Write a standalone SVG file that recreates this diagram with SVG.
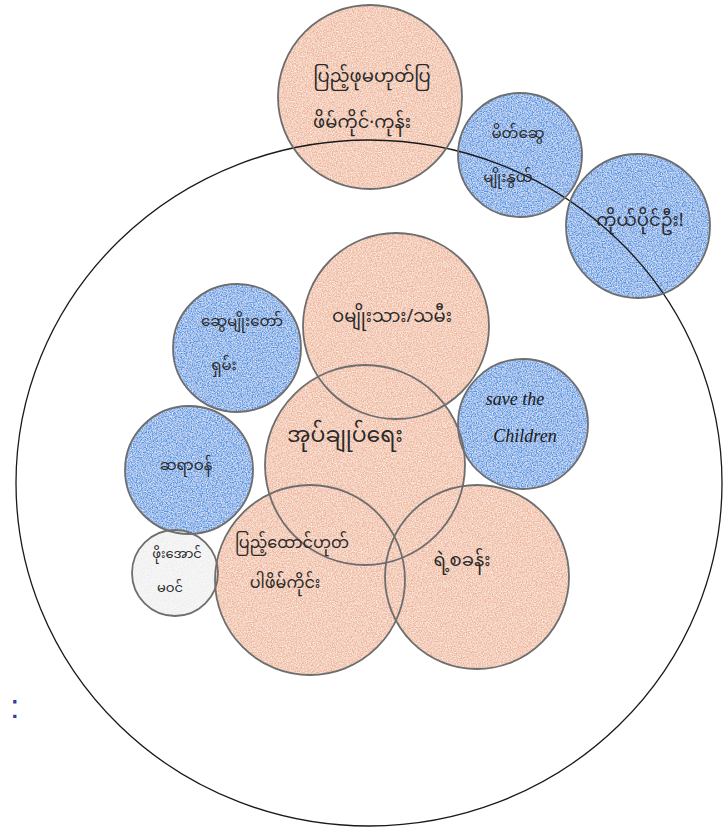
<svg xmlns="http://www.w3.org/2000/svg" width="728" height="828" viewBox="0 0 728 828">
<defs>
<filter id="crayon" x="-5%" y="-5%" width="110%" height="110%">
<feTurbulence type="fractalNoise" baseFrequency="0.8" numOctaves="2" seed="3" result="n"/>
<feColorMatrix in="n" type="matrix" values="0 0 0 0 1  0 0 0 0 1  0 0 0 0 1  0 0 0 -1.4 1.0" result="w"/>
<feComposite in="w" in2="SourceGraphic" operator="in" result="wm"/>
<feMerge><feMergeNode in="SourceGraphic"/><feMergeNode in="wm"/></feMerge>
</filter>
</defs>
<style>
.or{fill:#efb596;}
.bl{fill:#4f95e2;}
.wh{fill:#eeeeee;}
.ol{fill:none;stroke:#6e6e6e;stroke-width:1.8;}
.big{fill:none;stroke:#1a1a1a;stroke-width:1.3;}
.t{font-family:"Noto Sans Myanmar","Padauk","Myanmar Text","Noto Sans",sans-serif;font-size:18px;fill:#2a2a2a;text-anchor:middle;}
.s{font-size:15px;}
.e{font-family:"Liberation Serif",serif;font-style:italic;font-size:18px;fill:#1a1a1a;text-anchor:middle;}
</style>
<rect width="728" height="828" fill="#ffffff"/>
<g id="fills" filter="url(#crayon)">
<circle class="or" cx="370" cy="97" r="92"/>
<circle class="bl" cx="520" cy="155" r="62"/>
<circle class="bl" cx="638" cy="226" r="72"/>
<circle class="bl" cx="237" cy="348" r="64"/>
<circle class="bl" cx="523" cy="424" r="65"/>
<circle class="bl" cx="189" cy="470" r="64"/>
<circle class="wh" cx="175" cy="573" r="43"/>
<circle class="or" cx="396" cy="326" r="93"/>
<circle class="or" cx="365" cy="465" r="100"/>
<circle class="or" cx="310" cy="580" r="95"/>
<circle class="or" cx="477" cy="577" r="92"/>
</g>
<g id="connectors">
<ellipse class="big" cx="369" cy="483" rx="353" ry="343"/>
</g>
<g id="n1"><circle class="ol" cx="370" cy="97" r="92"/><text class="t" x="372" y="82">ပြည့်ဖုမဟုတ်ပြ</text><text class="t" x="362" y="128">ဖိမ်ကိုင်·ကုန်း</text></g>
<g id="n2"><circle class="ol" cx="520" cy="155" r="62"/><text class="t s" x="518" y="138">မိတ်ဆွေ</text><text class="t s" x="508" y="182">မျိုးနွယ်</text></g>
<g id="n3"><circle class="ol" cx="638" cy="226" r="72"/><text class="t" x="640" y="226">ကိုယ်ပိုင်ဦး!</text></g>
<g id="n4"><circle class="ol" cx="237" cy="348" r="64"/><text class="t s" x="242" y="326">ဆွေမျိုးတော်</text><text class="t s" x="224" y="370">ရှမ်း</text></g>
<g id="n5"><circle class="ol" cx="396" cy="326" r="93"/><text class="t" x="392" y="322">ဝမျိုးသား/သမီး</text></g>
<g id="n6"><circle class="ol" cx="523" cy="424" r="65"/><text class="e" x="515" y="405">save the</text><text class="e" x="525" y="442">Children</text></g>
<g id="n7"><circle class="ol" cx="189" cy="470" r="64"/><text class="t s" x="186" y="470">ဆရာဝန်</text></g>
<g id="n8"><circle class="ol" cx="365" cy="465" r="100"/><text class="t" x="345" y="442" style="font-size:22px">အုပ်ချုပ်ရေး</text></g>
<g id="n9"><circle class="ol" cx="175" cy="573" r="43"/><text class="t" x="177" y="558" style="font-size:13px">ဖိုးအောင်</text><text class="t" x="170" y="592" style="font-size:13px">မဝင်</text></g>
<g id="n10"><circle class="ol" cx="310" cy="580" r="95"/><text class="t" x="292" y="548" style="font-size:16px">ပြည့်ထောင်ဟုတ်</text><text class="t" x="285" y="588" style="font-size:16px">ပါဖိမ်ကိုင်း</text></g>
<g id="n11"><circle class="ol" cx="477" cy="577" r="92"/><text class="t" x="462" y="566">ရဲ့စခန်း</text></g>
<text x="10" y="718" style="font-family:'Liberation Sans',sans-serif;font-size:34px;fill:#3040a0">:</text>
</svg>
